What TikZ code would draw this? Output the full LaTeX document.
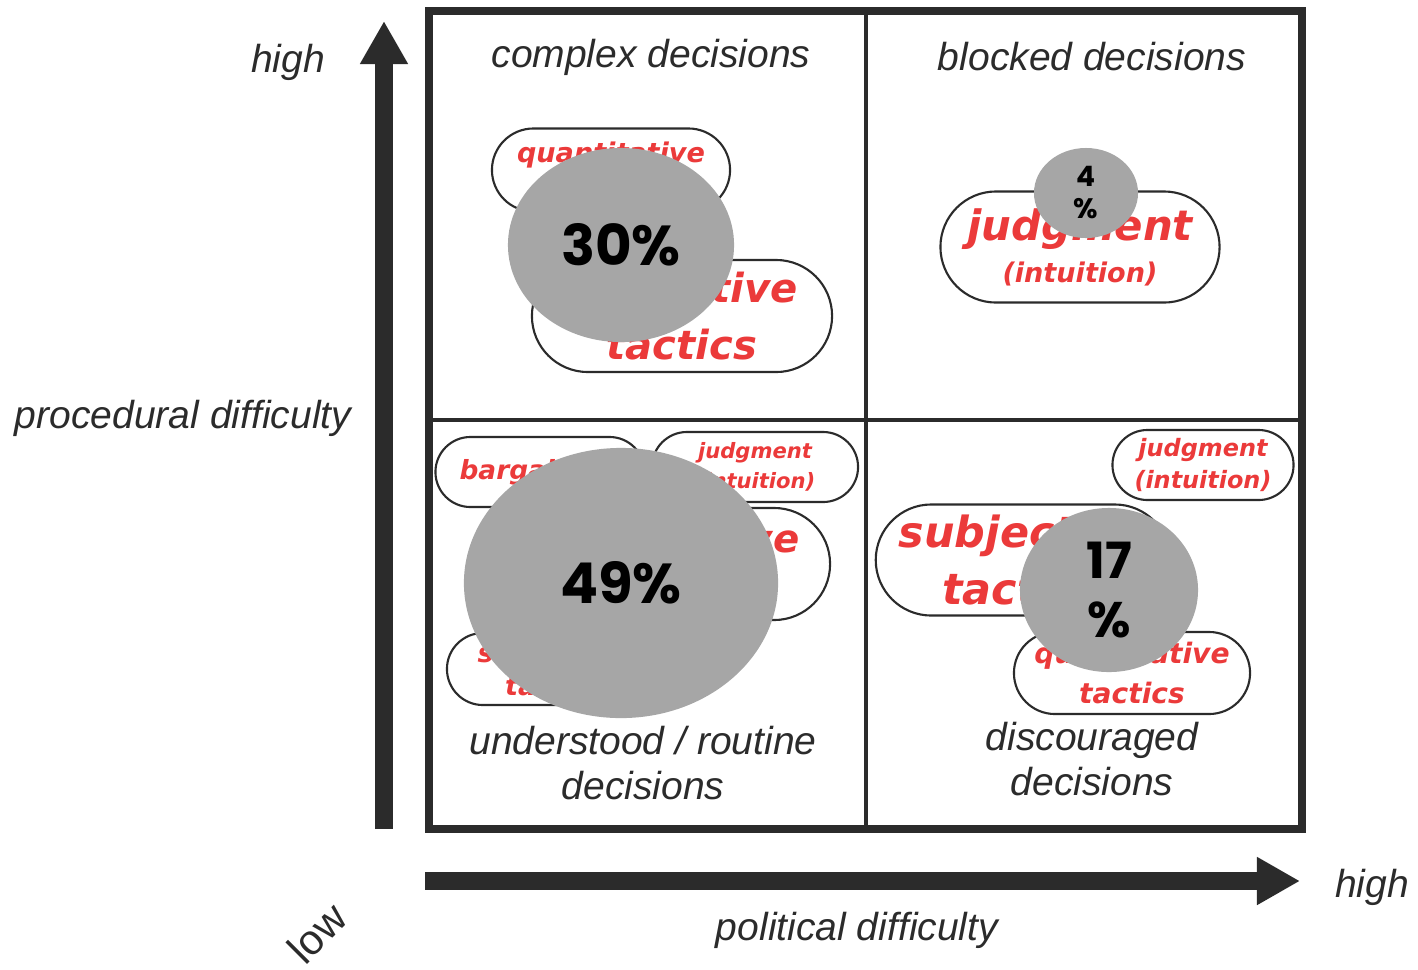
\documentclass[tikz,border=0pt]{standalone}
\usepackage{fontspec}
\setmainfont{Liberation Sans}
\newfontfamily\tacfont{DejaVu Sans}
\newfontfamily\pctfont{Poppins}
\usepackage{tikz}
\usetikzlibrary{shapes,arrows.meta}
\definecolor{ink}{RGB}{43,43,43}
\definecolor{tacred}{RGB}{235,58,58}
\definecolor{blobgray}{RGB}{166,166,166}
\newcommand{\fs}[2]{\fontsize{#1}{#2}\selectfont}

\begin{document}
\begin{tikzpicture}[x=0.01cm, y=-0.01cm,
  axislabel/.style = {text=ink, font=\itshape\fs{11.1pt}{12.8pt}, align=center, inner sep=0},
  pill/.style = {shape=rounded rectangle, draw=ink, line width=0.6pt, fill=white,
    text=tacred, align=center, inner sep=0},
  blob/.style = {shape=ellipse, fill=blobgray, text=black, align=center, inner sep=0},
  frameline/.style = {draw=ink, line width=2.3pt},
  midline/.style = {draw=ink, line width=1.4pt},
  axis/.style = {draw=ink, line width=5.1pt, -{Triangle[length=0.43cm, width=0.45cm]}}]
  \useasboundingbox (0,0) rectangle (1418,969);

  \draw[frameline] (429,11) rectangle (1302,829);
  \draw[midline] (866,11) -- (866,829);
  \draw[midline] (429,420) -- (1302,420);

  \coordinate (yfoot) at (384,829);
  \coordinate (ytip) at (384,21);
  \coordinate (xfoot) at (425,881);
  \coordinate (xtip) at (1300,881);
  \draw[axis] (yfoot) -- (ytip);
  \draw[axis] (xfoot) -- (xtip);

  \node[axislabel] (yhigh) at (288,62) {high};
  \node[axislabel] (ytitle) at (183,418) {procedural difficulty};
  \node[axislabel, font=\upshape\fs{12pt}{13pt}, rotate=45] (low) at (317,933) {low};
  \node[axislabel] (xtitle) at (857,930) {political difficulty};
  \node[axislabel] (xhigh) at (1372,887) {high};
  \node[axislabel] (complex) at (651,57) {complex decisions};
  \node[axislabel] (blocked) at (1092,57) {blocked decisions};
  \node[axislabel] (routine) at (643,763) {understood / routine\\decisions};
  \node[axislabel] (discouraged) at (1092,759) {discouraged\\decisions};

  \node[pill, minimum width=2.38cm, minimum height=0.83cm,
    font=\tacfont\bfseries\itshape\fs{7.7pt}{10pt}] (quantA) at (611,170) {quantitative\\tactics};
  \node[pill, minimum width=3.00cm, minimum height=1.12cm,
    font=\tacfont\bfseries\itshape\fs{11.4pt}{16.2pt}] (subjA) at (682,316) {subjective\\tactics};
  \node[blob, minimum width=2.26cm, minimum height=1.94cm,
    font=\pctfont\bfseries\fs{16pt}{18pt}] (pctA) at (621,245) {30\%};

  \node[pill, minimum width=2.79cm, minimum height=1.11cm,
    font=\tacfont\bfseries\itshape\fs{11.9pt}{12pt}] (judgB) at (1080,247)
    {judgment\\\fs{7.7pt}{12pt}(intuition)};
  \node[blob, minimum width=1.04cm, minimum height=0.90cm,
    font=\pctfont\bfseries\fs{8pt}{9.1pt}] (pctB) at (1086,193) {4\\\%};

  \node[pill, minimum width=2.09cm, minimum height=0.70cm,
    font=\tacfont\bfseries\itshape\fs{7.5pt}{9pt}] (bargC) at (540,472) {bargaining};
  \node[pill, minimum width=2.06cm, minimum height=0.70cm,
    font=\tacfont\bfseries\itshape\fs{6pt}{8.5pt}] (judgC) at (755,467) {judgment\\(intuition)};
  \node[pill, minimum width=3.30cm, minimum height=1.12cm,
    font=\tacfont\bfseries\itshape\fs{11pt}{15pt}] (quantC) at (665,564) {quantitative\\tactics};
  \node[pill, minimum width=2.18cm, minimum height=0.72cm,
    font=\tacfont\bfseries\itshape\fs{7.7pt}{9.4pt}] (subjC) at (556,669) {subjective\\tactics};
  \node[blob, minimum width=3.14cm, minimum height=2.70cm,
    font=\pctfont\bfseries\fs{16pt}{18pt}] (pctC) at (621,583) {49\%};

  \node[pill, minimum width=1.81cm, minimum height=0.70cm,
    font=\tacfont\bfseries\itshape\fs{6.8pt}{9.1pt}] (judgD) at (1203,465) {judgment\\(intuition)};
  \node[pill, minimum width=2.93cm, minimum height=1.11cm,
    font=\tacfont\bfseries\itshape\fs{12.2pt}{16.2pt}] (subjD) at (1023,560) {subjective\\tactics};
  \node[pill, minimum width=2.36cm, minimum height=0.82cm,
    font=\tacfont\bfseries\itshape\fs{8pt}{11.4pt}] (quantD) at (1132,673) {quantitative\\tactics};
  \node[blob, minimum width=1.78cm, minimum height=1.64cm,
    font=\pctfont\bfseries\fs{14.2pt}{16.8pt}] (pctD) at (1109,590) {17\\\%};
\end{tikzpicture}
\end{document}
